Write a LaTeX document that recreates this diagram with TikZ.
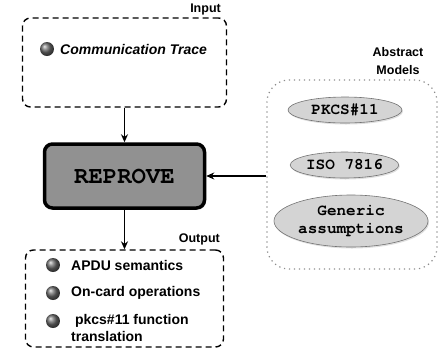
\documentclass[tikz,border=0pt]{standalone}
\usepackage{fontspec}
\setmainfont{Liberation Sans}
\newfontfamily\monofont{TeX Gyre Cursor}
\usetikzlibrary{shapes.geometric,shadows,arrows.meta}
\begin{document}
\begin{tikzpicture}[x=1pt,y=-1pt,
  dashbox/.style={draw=black, line width=1.4pt, dash pattern=on 6pt off 4pt, rounded corners=8pt, inner sep=0pt},
  dotbox/.style={draw=black!45, line width=1.2pt, dash pattern=on 1.2pt off 3.8pt, rounded corners=22pt, inner sep=0pt},
  grouplabel/.style={font=\fontsize{12.5}{14}\selectfont\bfseries, inner sep=0pt, align=center},
  bullet/.style={circle, ball color=black!58, minimum size=14pt, inner sep=0pt},
  itemtext/.style={font=\fontsize{14}{17}\selectfont\bfseries, anchor=west, inner sep=0pt, align=left},
  model/.style={ellipse, draw=black!55, line width=0.6pt, fill=black!17, inner sep=0pt,
    font=\fontsize{16}{18}\monofont\bfseries, align=center,
    drop shadow={opacity=0.25, shadow xshift=1pt, shadow yshift=-1.5pt}},
  core/.style={draw=black, line width=3.5pt, fill=black!43, rounded corners=8pt, inner sep=0pt,
    font=\fontsize{24}{26}\monofont\bfseries,
    drop shadow={opacity=0.3, shadow xshift=1.5pt, shadow yshift=-1.5pt}},
  link/.style={-{Stealth[length=8pt,width=7pt]}, line width=1.2pt}
]
\useasboundingbox (0,0) rectangle (445,360);
% Input
\node[dashbox, minimum width=204pt, minimum height=89pt] (input) at (124.5,62.5) {};
\node[grouplabel, anchor=east] (inlabel) at (221,9) {Input};
\node[bullet] (b0) at (47,49) {};
\node[itemtext, font=\fontsize{14}{17}\selectfont\bfseries\itshape] (t0) at (60,49) {Communication Trace};
% Core
\node[core, minimum width=160pt, minimum height=64pt] (reprove) at (124.5,176) {REPROVE};
% Output
\node[dashbox, minimum width=198pt, minimum height=97pt] (output) at (124.5,298.5) {};
\node[grouplabel, anchor=east] (outlabel) at (220,239) {Output};
\node[bullet] (b1) at (53,265) {};
\node[bullet] (b2) at (53,293) {};
\node[bullet] (b3) at (53,321) {};
\node[itemtext] (t1) at (71,265) {APDU semantics};
\node[itemtext] (t2) at (71,293) {On-card operations};
\node[itemtext, anchor=north west] (t3) at (71,314) {\ pkcs\#11 function\\translation};
% Abstract models
\node[dotbox, minimum width=170pt, minimum height=189pt] (abs) at (352,174.5) {};
\node[grouplabel, font=\fontsize{12.5}{18}\selectfont\bfseries] (abslabel) at (398,61) {Abstract\\Models};
\node[model, minimum width=114pt, minimum height=26pt] (pkcs) at (345,110) {PKCS\#11};
\node[model, minimum width=105pt, minimum height=26pt] (iso) at (344.5,165) {ISO 7816};
\node[model, minimum width=154pt, minimum height=52pt] (gen) at (351,221) {Generic\\assumptions};
% Connectors
\draw[link] (input) -- (reprove);
\draw[link] (reprove) -- (output);
\draw[link] (abs.west |- reprove) -- (reprove);
\end{tikzpicture}
\end{document}
